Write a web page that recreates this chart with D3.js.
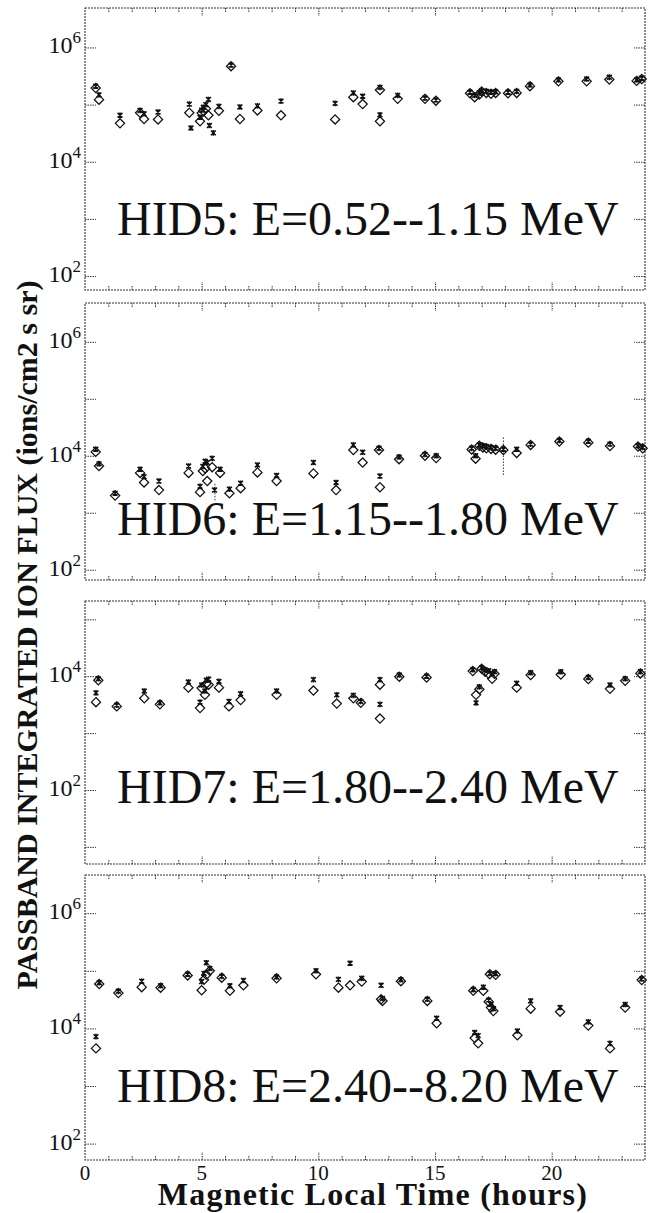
<!DOCTYPE html>
<html>
<head>
<meta charset="utf-8">
<script src="https://cdn.jsdelivr.net/npm/d3@7"></script>
<style>
body { margin: 0; background: #fff; }
svg, svg text { font-family: "Liberation Serif", "DejaVu Serif", serif; }
</style>
</head>
<body>
<div id="chart"></div>
<script>
// ---- data (MLT in hours, flux in ions/cm2 s sr) ----
var hid5Mlt = [0.46, 0.60, 1.50, 2.36, 2.53, 3.13, 4.47, 4.54, 4.93, 5.00, 5.07, 5.18, 5.29, 5.33, 5.50, 5.74,
  6.26, 6.64, 7.39, 8.40, 10.72, 11.50, 11.90, 12.64, 12.64, 13.40, 14.57, 15.04,
  16.50, 16.70, 16.90, 17.00, 17.20, 17.40, 17.60, 18.13, 18.50, 19.07, 20.29, 21.50, 22.47, 23.64, 23.86];
var hid5Diamond = [1.95e5, 1.22e5, 4.7e4, 7.2e4, 5.6e4, 5.5e4, 7.2e4, null, 5.1e4, 7.1e4, 7.8e4, 8.5e4, 6.5e4, null, null, 7.8e4,
  4.7e5, 5.6e4, 7.9e4, 6.5e4, 5.5e4, 1.35e5, 1.02e5, 1.8e5, 5.1e4, 1.26e5, 1.26e5, 1.17e5,
  1.58e5, 1.35e5, 1.5e5, 1.7e5, 1.6e5, 1.55e5, 1.6e5, 1.58e5, 1.6e5, 2.1e5, 2.55e5, 2.55e5, 2.75e5, 2.6e5, 2.8e5];
var hid5Star = [2.1e5, 1.48e5, 6.5e4, 7.9e4, 6.9e4, 7.4e4, 1.02e5, 3.9e4, 6.0e4, 8.0e4, 9.0e4, 1.0e5, 1.23e5, 4.3e4, 3.2e4, 9.3e4,
  4.9e5, 9.1e4, 9.5e4, 1.15e5, 1.05e5, 1.6e5, 1.4e5, 2.0e5, 6.6e4, 1.45e5, 1.3e5, 1.2e5,
  1.65e5, 1.45e5, 1.6e5, 1.75e5, 1.7e5, 1.65e5, 1.68e5, 1.65e5, 1.7e5, 2.2e5, 2.7e5, 2.8e5, 3.0e5, 2.7e5, 2.9e5];

var hid6Mlt = [0.46, 0.60, 1.29, 2.36, 2.53, 3.17, 4.44, 4.93, 5.05, 5.15, 5.24, 5.45, 5.55, 5.79,
  6.19, 6.67, 7.39, 8.21, 9.79, 10.76, 11.50, 11.90, 12.60, 12.64, 13.46, 14.57, 15.05,
  16.57, 16.74, 16.90, 17.05, 17.20, 17.40, 17.60, 17.93, 18.50, 19.10, 20.33, 21.57, 22.50, 23.70, 23.90];
var hid6Diamond = [1.17e4, 6.6e3, 2.0e3, 5.0e3, 3.4e3, 2.5e3, 5.0e3, 2.3e3, 5.4e3, 6.0e3, 3.6e3, 6.3e3, null, 5.0e3,
  2.2e3, 2.7e3, 5.1e3, 3.6e3, 4.9e3, 2.5e3, 1.26e4, 7.6e3, 1.26e4, 2.8e3, 8.7e3, 1.0e4, 9.1e3,
  1.29e4, 8.9e3, 1.5e4, 1.4e4, 1.35e4, 1.32e4, 1.28e4, 1.26e4, 1.12e4, 1.55e4, 1.78e4, 1.7e4, 1.48e4, 1.45e4, 1.35e4];
var hid6Star = [1.3e4, 7.2e3, 2.2e3, 5.8e3, 4.3e3, 3.6e3, 6.6e3, 2.9e3, 6.5e3, 8.0e3, 7.6e3, 9.0e3, 2.5e3, 5.8e3,
  2.6e3, 3.3e3, 6.9e3, 4.5e3, 7.6e3, 3.4e3, 1.55e4, 1.15e4, 1.35e4, 4.4e3, 9.5e3, 1.05e4, 1.0e4,
  1.35e4, 1.0e4, 1.55e4, 1.5e4, 1.45e4, 1.4e4, 1.35e4, 1.3e4, 1.3e4, 1.6e4, 1.85e4, 1.8e4, 1.6e4, 1.5e4, 1.4e4];
// dotted error bars seen in the HID6 panel
var hid6ErrMlt = [5.57, 17.93];
var hid6ErrLo = [1.65e3, 4.6e3];
var hid6ErrHi = [3.3e3, 2.2e4];

var hid7Mlt = [0.47, 0.57, 1.36, 2.54, 3.21, 4.43, 4.93, 5.00, 5.14, 5.20, 5.30, 5.74, 6.17, 6.67, 8.21, 9.79,
  10.79, 11.50, 11.82, 12.64, 12.64, 13.47, 14.64, 16.62, 16.76, 16.90, 17.00, 17.15, 17.30, 17.45, 17.55,
  18.50, 19.10, 20.39, 21.57, 22.50, 23.15, 23.80];
var hid7Diamond = [3.5e3, 8.5e3, 2.95e3, 4.1e3, 3.2e3, 6.3e3, 2.75e3, 6.2e3, 4.7e3, 7.4e3, 7.1e3, 6.3e3, 2.95e3, 3.8e3, 4.7e3, 5.6e3,
  3.3e3, 4.1e3, 3.4e3, 7.1e3, 1.8e3, 9.8e3, 9.5e3, 1.23e4, 4.7e3, 5.9e3, 1.35e4, 1.2e4, 1.1e4, 9.0e3, 1.1e4,
  6.3e3, 1.05e4, 1.07e4, 8.9e3, 6.0e3, 8.3e3, 1.12e4];
var hid7Star = [5.1e3, 9.0e3, 3.1e3, 5.5e3, 3.4e3, 7.9e3, 3.5e3, 7.0e3, 5.5e3, 8.5e3, 8.9e3, 8.1e3, 3.6e3, 4.9e3, 5.5e3, 8.7e3,
  4.7e3, 4.6e3, 3.6e3, 8.7e3, 3.2e3, 1.05e4, 1.0e4, 1.3e4, 3.4e3, 6.5e3, 1.4e4, 1.3e4, 1.25e4, 1.1e4, 1.2e4,
  7.5e3, 1.15e4, 1.2e4, 9.5e3, 7.0e3, 9.0e3, 1.2e4];

var hid8Mlt = [0.47, 0.61, 1.43, 2.43, 3.24, 4.40, 5.00, 5.10, 5.20, 5.35, 5.86, 6.21, 6.79, 8.21, 9.90,
  10.86, 11.36, 11.86, 12.69, 12.75, 13.54, 14.67, 15.07, 16.64, 16.70, 16.85, 17.07, 17.30, 17.35, 17.40, 17.50, 17.60,
  18.53, 19.10, 20.36, 21.57, 22.50, 23.15, 23.86];
var hid8Diamond = [4.5e3, 5.9e4, 4.1e4, 5.2e4, 5.1e4, 8.3e4, 4.6e4, 7.0e4, 8.5e4, 1.0e5, 7.6e4, 4.5e4, 5.6e4, 7.4e4, 8.7e4,
  5.1e4, 5.6e4, 6.5e4, 3.2e4, 3.0e4, 6.6e4, 3.0e4, 1.23e4, 4.5e4, 6.8e3, 5.5e3, 4.5e4, 2.9e4, 8.7e4, 2.3e4, 2.0e4, 8.5e4,
  7.6e3, 2.2e4, 1.95e4, 1.12e4, 4.5e3, 2.3e4, 6.9e4];
var hid8Star = [7.2e3, 6.2e4, 4.4e4, 6.6e4, 5.5e4, 8.7e4, 6.5e4, 9.0e4, 1.38e5, 1.1e5, 8.0e4, 5.5e4, 6.8e4, 7.8e4, 1.0e5,
  7.1e4, 1.35e5, 7.4e4, 5.6e4, 3.3e4, 7.0e4, 3.2e4, 1.5e4, 4.7e4, 8.5e3, 7.5e3, 5.2e4, 3.1e4, 9.0e4, 2.6e4, 2.2e4, 8.9e4,
  9.0e3, 3.0e4, 2.3e4, 1.3e4, 5.5e3, 2.6e4, 7.2e4];

var panelLabels = ["HID5: E=0.52--1.15 MeV", "HID6: E=1.15--1.80 MeV", "HID7: E=1.80--2.40 MeV", "HID8: E=2.40--8.20 MeV"];
var xTickValues = [0, 5, 10, 15, 20];
var xTickLabels = ["0", "5", "10", "15", "20"];
var xTitle = "Magnetic Local Time (hours)";
var yTitle = "PASSBAND INTEGRATED ION FLUX (ions/cm2 s sr)";

// ---- layout ----
var width = 652, height = 1213;
var plotLeft = 85, plotRight = 645;
var frameStroke = "#333";
var serif = "'Liberation Serif', 'DejaVu Serif', serif";

var panels = [
  {top: 8,   bottom: 290,  domain: [57, 4.9e6], mlt: hid5Mlt, dia: hid5Diamond, star: hid5Star, label: panelLabels[0], labelY: 235},
  {top: 303, bottom: 580,  domain: [66, 4.8e6], mlt: hid6Mlt, dia: hid6Diamond, star: hid6Star, label: panelLabels[1], labelY: 535,
   errMlt: hid6ErrMlt, errLo: hid6ErrLo, errHi: hid6ErrHi},
  {top: 601, bottom: 864,  domain: [5, 2.1e5],  mlt: hid7Mlt, dia: hid7Diamond, star: hid7Star, label: panelLabels[2], labelY: 803},
  {top: 875, bottom: 1160, domain: [52, 4.6e6], mlt: hid8Mlt, dia: hid8Diamond, star: hid8Star, label: panelLabels[3], labelY: 1102}
];

var svg = d3.select("#chart").append("svg")
  .attr("width", width)
  .attr("height", height)
  .attr("font-family", serif);

var x = d3.scaleLinear().domain([0, 24]).range([plotLeft, plotRight]);

var diamondPath = "M0,-4.6L4.6,0L0,4.6L-4.6,0Z";
var starPath = "M-2.4,-2.4L2.4,2.4M-2.4,2.4L2.4,-2.4M0,-2.8L0,2.8";

function styleTicks(g) {
  g.select(".domain").remove();
  g.selectAll(".tick line")
    .attr("stroke", frameStroke)
    .attr("stroke-width", 1)
    .attr("stroke-dasharray", "1.5,1");
  g.selectAll(".tick text").remove();
}

panels.forEach(function(p, pi) {
  var y = d3.scaleLog().domain(p.domain).range([p.bottom, p.top]);
  var g = svg.append("g").attr("class", "panel");

  // frame
  g.append("rect")
    .attr("x", plotLeft)
    .attr("y", p.top)
    .attr("width", plotRight - plotLeft)
    .attr("height", p.bottom - p.top)
    .attr("fill", "none")
    .attr("stroke", frameStroke)
    .attr("stroke-width", 1.1)
    .attr("stroke-dasharray", "2,1");

  // x ticks: minor every hour, major every 5 hours, on top and bottom
  var minor = d3.range(1, 24).filter(function(d) { return d % 5 !== 0; });
  var major = [5, 10, 15, 20];
  g.append("g").attr("transform", "translate(0," + p.bottom + ")")
    .call(d3.axisBottom(x).tickValues(minor).tickSize(-4)).call(styleTicks);
  g.append("g").attr("transform", "translate(0," + p.bottom + ")")
    .call(d3.axisBottom(x).tickValues(major).tickSize(-8)).call(styleTicks);
  g.append("g").attr("transform", "translate(0," + p.top + ")")
    .call(d3.axisTop(x).tickValues(minor).tickSize(-4)).call(styleTicks);
  g.append("g").attr("transform", "translate(0," + p.top + ")")
    .call(d3.axisTop(x).tickValues(major).tickSize(-8)).call(styleTicks);

  // y ticks at each decade, left and right
  var lo = Math.ceil(Math.log10(p.domain[0])), hi = Math.floor(Math.log10(p.domain[1]));
  var decades = d3.range(lo, hi + 1);
  var decadeVals = decades.map(function(e) { return Math.pow(10, e); });
  g.append("g").attr("transform", "translate(" + plotLeft + ",0)")
    .call(d3.axisLeft(y).tickValues(decadeVals).tickSize(-11)).call(styleTicks);
  g.append("g").attr("transform", "translate(" + plotRight + ",0)")
    .call(d3.axisRight(y).tickValues(decadeVals).tickSize(-11)).call(styleTicks);

  // labels 10^n for even exponents
  var labels = g.selectAll(".ylab")
    .data(decades.filter(function(e) { return e % 2 === 0; }))
    .enter().append("text")
    .attr("class", "ylab")
    .attr("x", plotLeft - 4)
    .attr("y", function(e) { return y(Math.pow(10, e)) + 6; })
    .attr("text-anchor", "end")
    .attr("font-family", serif)
    .attr("fill", "#111");
  labels.append("tspan").attr("font-size", 24).text("10");
  labels.append("tspan").attr("font-size", 17).attr("dy", -10).text(function(e) { return e; });

  // error bars (dotted)
  if (p.errMlt) {
    g.selectAll(".err")
      .data(p.errMlt)
      .enter().append("line")
      .attr("x1", function(d) { return x(d); })
      .attr("x2", function(d) { return x(d); })
      .attr("y1", function(d, i) { return y(p.errLo[i]); })
      .attr("y2", function(d, i) { return y(p.errHi[i]); })
      .attr("stroke", "#333")
      .attr("stroke-width", 1)
      .attr("stroke-dasharray", "1.5,1.5");
  }

  var pts = p.mlt.map(function(m, i) { return {mlt: m, dia: p.dia[i], star: p.star[i]}; });

  // open diamonds
  g.selectAll(".dia")
    .data(pts.filter(function(d) { return d.dia != null; }))
    .enter().append("path")
    .attr("class", "dia")
    .attr("d", diamondPath)
    .attr("transform", function(d) { return "translate(" + x(d.mlt) + "," + y(d.dia) + ")"; })
    .attr("fill", "none")
    .attr("stroke", "#111")
    .attr("stroke-width", 1.25);

  // asterisks
  g.selectAll(".star")
    .data(pts.filter(function(d) { return d.star != null; }))
    .enter().append("path")
    .attr("class", "star")
    .attr("d", starPath)
    .attr("transform", function(d) { return "translate(" + x(d.mlt) + "," + y(d.star) + ")"; })
    .attr("fill", "none")
    .attr("stroke", "#111")
    .attr("stroke-width", 1.6);

  // channel label
  g.append("text")
    .attr("x", 117)
    .attr("y", p.labelY)
    .attr("font-size", 48)
    .attr("font-family", serif)
    .attr("fill", "#111")
    .text(p.label);

  // x tick labels only on the bottom panel
  if (pi === panels.length - 1) {
    g.selectAll(".xlab")
      .data(xTickValues)
      .enter().append("text")
      .attr("class", "xlab")
      .attr("x", function(d) { return x(d); })
      .attr("y", p.bottom + 20)
      .attr("text-anchor", "middle")
      .attr("font-size", 21)
      .attr("font-family", serif)
      .attr("fill", "#111")
      .text(function(d, i) { return xTickLabels[i]; });
  }
});

// axis titles
svg.append("text")
  .attr("x", 373)
  .attr("y", 1205)
  .attr("text-anchor", "middle")
  .attr("font-size", 32)
  .attr("font-weight", "bold")
  .attr("letter-spacing", 1.2)
  .attr("font-family", serif)
  .attr("fill", "#111")
  .text(xTitle);

svg.append("text")
  .attr("transform", "translate(37,635) rotate(-90)")
  .attr("text-anchor", "middle")
  .attr("font-size", 30)
  .attr("font-weight", "bold")
  .attr("font-family", serif)
  .attr("fill", "#111")
  .text(yTitle);
</script>
</body>
</html>
